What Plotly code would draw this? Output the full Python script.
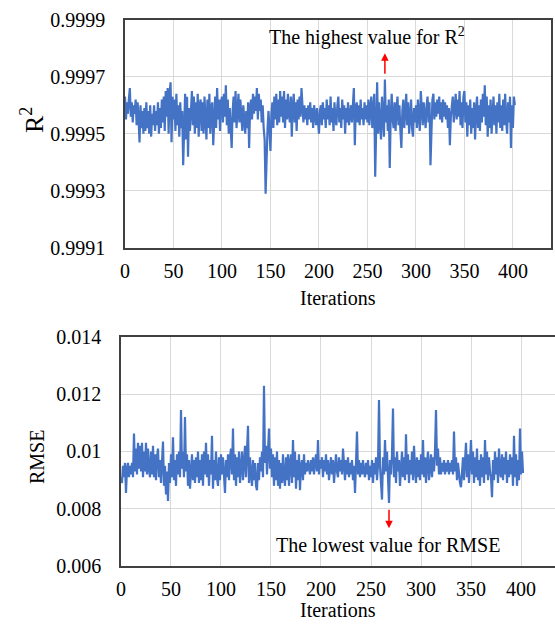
import plotly.graph_objects as go

# Iteration index and per-iteration scores of the optimisation run
iterations = list(range(0, 403))

r2_values = [
    0.99963, 0.99955, 0.99961, 0.99957, 0.99962, 0.99966, 0.99956, 0.99961, 0.99954, 0.99960,
    0.99957, 0.99962, 0.99953, 0.99961, 0.99955, 0.99947, 0.99960, 0.99952, 0.99958, 0.99950,
    0.99959, 0.99951, 0.99961, 0.99952, 0.99958, 0.99950, 0.99960, 0.99949, 0.99957, 0.99953,
    0.99960, 0.99951, 0.99958, 0.99953, 0.99961, 0.99950, 0.99959, 0.99952, 0.99962, 0.99954,
    0.99963, 0.99951, 0.99965, 0.99956, 0.99966, 0.99950, 0.99964, 0.99968, 0.99947, 0.99963,
    0.99955, 0.99962, 0.99951, 0.99964, 0.99953, 0.99960, 0.99949, 0.99961, 0.99952, 0.99958,
    0.99939, 0.99955, 0.99964, 0.99948, 0.99963, 0.99942, 0.99959, 0.99951, 0.99962, 0.99965,
    0.99953, 0.99963, 0.99950, 0.99961, 0.99952, 0.99964, 0.99949, 0.99960, 0.99962, 0.99951,
    0.99961, 0.99950, 0.99963, 0.99953, 0.99948, 0.99962, 0.99952, 0.99964, 0.99950, 0.99959,
    0.99961, 0.99946, 0.99958, 0.99963, 0.99952, 0.99966, 0.99955, 0.99962, 0.99951, 0.99961,
    0.99963, 0.99954, 0.99964, 0.99956, 0.99967, 0.99953, 0.99962, 0.99950, 0.99959, 0.99953,
    0.99945, 0.99958, 0.99963, 0.99954, 0.99965, 0.99952, 0.99961, 0.99964, 0.99954, 0.99962,
    0.99956, 0.99951, 0.99960, 0.99953, 0.99950, 0.99958, 0.99952, 0.99961, 0.99945, 0.99959,
    0.99962, 0.99955, 0.99964, 0.99957, 0.99963, 0.99958, 0.99966, 0.99955, 0.99964, 0.99958,
    0.99962, 0.99954, 0.99960, 0.99952, 0.99948, 0.99929, 0.99947, 0.99952, 0.99958, 0.99950,
    0.99944, 0.99957, 0.99961, 0.99952, 0.99963, 0.99955, 0.99964, 0.99953, 0.99962, 0.99954,
    0.99965, 0.99956, 0.99963, 0.99954, 0.99965, 0.99952, 0.99962, 0.99955, 0.99964, 0.99957,
    0.99954, 0.99963, 0.99949, 0.99960, 0.99964, 0.99954, 0.99961, 0.99951, 0.99962, 0.99955,
    0.99963, 0.99956, 0.99966, 0.99960, 0.99954, 0.99960, 0.99955, 0.99959, 0.99953, 0.99960,
    0.99955, 0.99961, 0.99954, 0.99959, 0.99952, 0.99960, 0.99955, 0.99953, 0.99959, 0.99955,
    0.99950, 0.99958, 0.99960, 0.99953, 0.99961, 0.99955, 0.99959, 0.99952, 0.99962, 0.99955,
    0.99960, 0.99953, 0.99963, 0.99954, 0.99959, 0.99951, 0.99961, 0.99955, 0.99953, 0.99960,
    0.99963, 0.99954, 0.99959, 0.99952, 0.99962, 0.99955, 0.99960, 0.99950, 0.99959, 0.99954,
    0.99961, 0.99953, 0.99958, 0.99960, 0.99954, 0.99962, 0.99966, 0.99946, 0.99959, 0.99961,
    0.99954, 0.99960, 0.99953, 0.99962, 0.99955, 0.99959, 0.99953, 0.99961, 0.99955, 0.99960,
    0.99954, 0.99962, 0.99953, 0.99959, 0.99963, 0.99952, 0.99960, 0.99964, 0.99935, 0.99956,
    0.99968, 0.99950, 0.99961, 0.99954, 0.99948, 0.99963, 0.99956, 0.99949, 0.99969, 0.99954,
    0.99960, 0.99951, 0.99962, 0.99938, 0.99956, 0.99964, 0.99955, 0.99952, 0.99961, 0.99951,
    0.99959, 0.99963, 0.99953, 0.99960, 0.99951, 0.99945, 0.99958, 0.99962, 0.99952, 0.99960,
    0.99964, 0.99953, 0.99961, 0.99950, 0.99959, 0.99962, 0.99952, 0.99949, 0.99959, 0.99954,
    0.99960, 0.99952, 0.99962, 0.99955, 0.99951, 0.99965, 0.99956, 0.99953, 0.99961, 0.99955,
    0.99952, 0.99960, 0.99963, 0.99954, 0.99961, 0.99939, 0.99957, 0.99962, 0.99964, 0.99955,
    0.99961, 0.99956, 0.99962, 0.99957, 0.99963, 0.99955, 0.99961, 0.99954, 0.99962, 0.99956,
    0.99961, 0.99955, 0.99960, 0.99952, 0.99959, 0.99946, 0.99956, 0.99961, 0.99963, 0.99954,
    0.99960, 0.99964, 0.99955, 0.99962, 0.99956, 0.99965, 0.99953, 0.99961, 0.99952, 0.99963,
    0.99965, 0.99954, 0.99961, 0.99949, 0.99960, 0.99953, 0.99962, 0.99950, 0.99959, 0.99952,
    0.99961, 0.99948, 0.99958, 0.99963, 0.99952, 0.99960, 0.99951, 0.99962, 0.99954, 0.99964,
    0.99956, 0.99967, 0.99953, 0.99963, 0.99949, 0.99960, 0.99952, 0.99962, 0.99950, 0.99959,
    0.99963, 0.99953, 0.99960, 0.99950, 0.99961, 0.99954, 0.99964, 0.99952, 0.99960, 0.99951,
    0.99962, 0.99953, 0.99964, 0.99955, 0.99950, 0.99961, 0.99954, 0.99963, 0.99945, 0.99960,
    0.99952, 0.99963, 0.99960,
]

rmse_values = [
    0.0091, 0.0089, 0.0095, 0.0091, 0.0096, 0.00855, 0.0094, 0.0096, 0.0091, 0.0095,
    0.0092, 0.0096, 0.0091, 0.01063, 0.0093, 0.0101, 0.0092, 0.0103, 0.0094, 0.0102,
    0.0093, 0.0103, 0.0091, 0.0100, 0.0093, 0.0103, 0.0092, 0.0101, 0.0094, 0.0091,
    0.0100, 0.0092, 0.0102, 0.0091, 0.0099, 0.0090, 0.0098, 0.0101, 0.0091, 0.0097,
    0.0089, 0.0098, 0.01035, 0.0088, 0.0095, 0.0085, 0.0093, 0.00827, 0.0096, 0.0089,
    0.0099, 0.0091, 0.0105, 0.0090, 0.0097, 0.0088, 0.0099, 0.0092, 0.0100, 0.0091,
    0.01145, 0.0094, 0.0100, 0.0091, 0.0112, 0.0093, 0.0099, 0.0088, 0.0097, 0.0087,
    0.0095, 0.0099, 0.0090, 0.0097, 0.0089, 0.0098, 0.0091, 0.0100, 0.0089, 0.0097,
    0.0090, 0.0099, 0.0088, 0.0100, 0.0092, 0.0103, 0.0091, 0.0099, 0.0088, 0.0097,
    0.0092, 0.01055, 0.0087, 0.0097, 0.0090, 0.0100, 0.0091, 0.0088, 0.0098, 0.0090,
    0.0099, 0.0092, 0.0098, 0.0089, 0.00855, 0.0097, 0.0091, 0.0099, 0.0090, 0.0098,
    0.0101, 0.0092, 0.0108, 0.0090, 0.0099, 0.0088, 0.0098, 0.0091, 0.0100, 0.0089,
    0.0097, 0.0100, 0.0090, 0.0099, 0.0102, 0.0091, 0.0098, 0.0109, 0.0089, 0.0098,
    0.0092, 0.0088, 0.0097, 0.0090, 0.0096, 0.0088, 0.00865, 0.0096, 0.0090, 0.0098,
    0.0093, 0.0100, 0.0091, 0.0123, 0.0096, 0.0102, 0.0092, 0.0100, 0.0108, 0.0094,
    0.0101, 0.0091, 0.0099, 0.0088, 0.0098, 0.0090, 0.0100, 0.0088, 0.0097, 0.0087,
    0.0096, 0.0089, 0.0099, 0.0091, 0.0088, 0.0098, 0.0090, 0.0099, 0.0088, 0.0096,
    0.0099, 0.0089, 0.0104, 0.0091, 0.0100, 0.0087, 0.0097, 0.0090, 0.0099, 0.00865,
    0.0095, 0.0097, 0.0090, 0.0099, 0.0092, 0.0096, 0.0093, 0.0097, 0.0094, 0.0092,
    0.0097, 0.0093, 0.0098, 0.0092, 0.0096, 0.0099, 0.0093, 0.0104, 0.0092, 0.0097,
    0.0094, 0.0098, 0.0091, 0.0097, 0.0093, 0.0099, 0.0092, 0.0097, 0.0090, 0.0096,
    0.0098, 0.0092, 0.0097, 0.0089, 0.0096, 0.0099, 0.0093, 0.0091, 0.0098, 0.0093,
    0.0097, 0.0092, 0.0101, 0.0093, 0.0090, 0.0097, 0.0092, 0.0098, 0.0091, 0.0096,
    0.0092, 0.0097, 0.0090, 0.0095, 0.00855, 0.0096, 0.0107, 0.0092, 0.0097, 0.0091,
    0.0096, 0.0092, 0.0097, 0.0093, 0.0091, 0.0096, 0.0092, 0.0097, 0.0090, 0.0095,
    0.0091, 0.0097, 0.0089, 0.0096, 0.0092, 0.0098, 0.0090, 0.0095, 0.0118, 0.0095,
    0.0089, 0.00832, 0.0098, 0.0092, 0.0104, 0.0093, 0.0100, 0.0090, 0.0082, 0.0097,
    0.0092, 0.0099, 0.0115, 0.0091, 0.0098, 0.0089, 0.0100, 0.0093, 0.0097, 0.0088,
    0.0096, 0.0100, 0.0091, 0.0098, 0.0090, 0.0106, 0.0092, 0.0099, 0.0089, 0.0097,
    0.0092, 0.0100, 0.0090, 0.0102, 0.0094, 0.0089, 0.0098, 0.0091, 0.0097, 0.0090,
    0.0099, 0.0092, 0.0104, 0.0091, 0.0098, 0.0089, 0.0096, 0.0100, 0.0090, 0.0097,
    0.0099, 0.0091, 0.0098, 0.0093, 0.0100, 0.01145, 0.0095, 0.0101, 0.0092, 0.0098,
    0.0092, 0.0096, 0.0093, 0.0097, 0.0092, 0.0096, 0.0093, 0.0097, 0.0092, 0.0096,
    0.0093, 0.0097, 0.0092, 0.0107, 0.0093, 0.0098, 0.0090, 0.0096, 0.0091, 0.0089,
    0.00875, 0.0095, 0.0098, 0.0090, 0.0097, 0.0103, 0.0091, 0.0099, 0.0089, 0.0097,
    0.0104, 0.0092, 0.0100, 0.0089, 0.0098, 0.0091, 0.0101, 0.0090, 0.0097, 0.0088,
    0.0099, 0.0091, 0.0098, 0.0089, 0.0104, 0.0092, 0.0100, 0.0090, 0.0098, 0.0093,
    0.0091, 0.0084, 0.0097, 0.0090, 0.0100, 0.0092, 0.0098, 0.0089, 0.0101, 0.0093,
    0.0091, 0.0099, 0.0090, 0.0098, 0.0092, 0.0100, 0.0089, 0.0097, 0.0091, 0.0099,
    0.0092, 0.0098, 0.0088, 0.01055, 0.0091, 0.0099, 0.0088, 0.0097, 0.0090, 0.0108,
    0.0092, 0.0100, 0.00925,
]

x_tick_vals = [0, 50, 100, 150, 200, 250, 300, 350, 400]
r2_tick_vals = [0.9991, 0.9993, 0.9995, 0.9997, 0.9999]
r2_tick_text = ["0.9991", "0.9993", "0.9995", "0.9997", "0.9999"]
rmse_tick_vals = [0.006, 0.008, 0.010, 0.012, 0.014]
rmse_tick_text = ["0.006", "0.008", "0.01", "0.012", "0.014"]

FONT = "Liberation Serif"
LINE_BLUE = "#4472C4"
GRID = "#D9D9D9"
FRAME = "#404040"

best_r2_iter = r2_values.index(max(r2_values))
best_rmse_iter = rmse_values.index(min(rmse_values))

fig = go.Figure()
fig.add_trace(go.Scatter(x=iterations, y=r2_values, mode="lines",
                         line=dict(color=LINE_BLUE, width=2.2), xaxis="x", yaxis="y",
                         showlegend=False))
fig.add_trace(go.Scatter(x=iterations, y=rmse_values, mode="lines",
                         line=dict(color=LINE_BLUE, width=2.2), xaxis="x2", yaxis="y2",
                         showlegend=False))

axis_font = dict(family=FONT, size=20, color="black")
common = dict(tickfont=axis_font, showgrid=True, gridcolor=GRID, gridwidth=1,
              zeroline=False, showline=True, linecolor=FRAME, linewidth=1.5,
              ticks="", automargin=False)

fig.update_layout(
    width=555, height=630,
    margin=dict(l=0, r=0, t=0, b=0, autoexpand=False),
    paper_bgcolor="white", plot_bgcolor="white",
    font=dict(family=FONT, color="black"),
    xaxis=dict(domain=[0.2252, 0.9923], range=[0, 439], tickvals=x_tick_vals,
               mirror=True, ticklabelstandoff=4, anchor="y", **common),
    yaxis=dict(domain=[0.6063, 0.9690], range=[0.9991, 0.9999], tickvals=r2_tick_vals,
               ticktext=r2_tick_text, mirror=True, ticklabelstandoff=14, anchor="x",
               **common),
    xaxis2=dict(domain=[0.2180, 1.0], range=[0, 434], tickvals=x_tick_vals,
                mirror=True, ticklabelstandoff=4, anchor="y2", **common),
    yaxis2=dict(domain=[0.1016, 0.4651], range=[0.006, 0.014], tickvals=rmse_tick_vals,
                ticktext=rmse_tick_text, mirror=False, ticklabelstandoff=14, anchor="x2",
                **common),
)

annotations = [
    # axis titles
    dict(text="Iterations", x=338 / 555, y=1 - 298 / 630, xref="paper", yref="paper",
         showarrow=False, font=dict(family=FONT, size=20), xanchor="center", yanchor="middle"),
    dict(text="Iterations", x=338 / 555, y=1 - 610 / 630, xref="paper", yref="paper",
         showarrow=False, font=dict(family=FONT, size=20), xanchor="center", yanchor="middle"),
    dict(text="R<sup>2</sup>", x=32 / 555, y=1 - 120 / 630, xref="paper", yref="paper",
         showarrow=False, textangle=-90, font=dict(family=FONT, size=26),
         xanchor="center", yanchor="middle"),
    dict(text="RMSE", x=37 / 555, y=1 - 457 / 630, xref="paper", yref="paper",
         showarrow=False, textangle=-90, font=dict(family=FONT, size=20),
         xanchor="center", yanchor="middle"),
    # highlighted extremes
    dict(text="The highest value for R<sup>2</sup>", x=250, y=0.999842, xref="x", yref="y",
         showarrow=False, font=dict(family=FONT, size=20), xanchor="center", yanchor="middle"),
    dict(text="", x=best_r2_iter, y=0.999782, ax=best_r2_iter, ay=0.999705,
         xref="x", yref="y", axref="x", ayref="y", showarrow=True,
         arrowhead=2, arrowsize=1, arrowwidth=1.5, arrowcolor="#FF0000"),
    dict(text="The lowest value for RMSE", x=267, y=0.006726, xref="x2", yref="y2",
         showarrow=False, font=dict(family=FONT, size=20), xanchor="center", yanchor="middle"),
    dict(text="", x=best_rmse_iter, y=0.00732, ax=best_rmse_iter, ay=0.00802,
         xref="x2", yref="y2", axref="x2", ayref="y2", showarrow=True,
         arrowhead=2, arrowsize=1, arrowwidth=1.5, arrowcolor="#FF0000"),
]
fig.update_layout(annotations=annotations)

fig.write_html("out.html")
